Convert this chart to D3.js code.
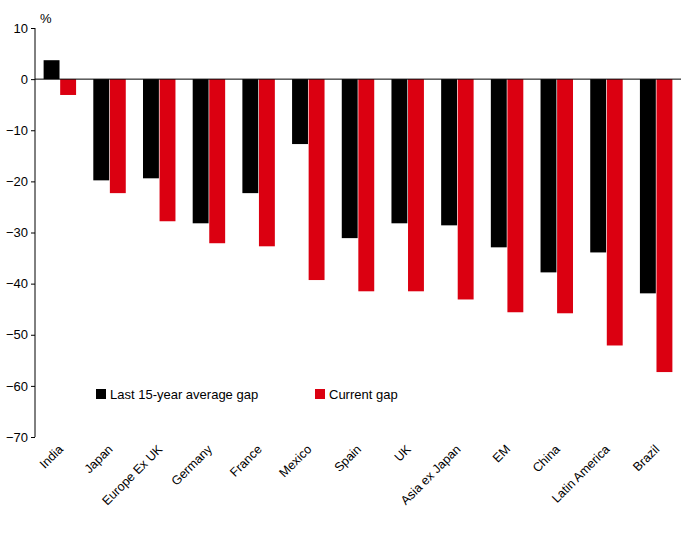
<!DOCTYPE html><html><head><meta charset="utf-8"><script src="https://cdn.jsdelivr.net/npm/d3@7"></script>
<style>body{margin:0;background:#fff}text{font-family:"Liberation Sans",Arial,sans-serif;}</style></head><body><svg id="c" width="690" height="534"></svg><script>
const categories=["India","Japan","Europe Ex UK","Germany","France","Mexico","Spain","UK","Asia ex Japan","EM","China","Latin America","Brazil"];
const avgGap=[3.7,-19.8,-19.4,-28.2,-22.3,-12.7,-31.1,-28.2,-28.6,-32.9,-37.8,-33.9,-41.9];
const currentGap=[-3.1,-22.3,-27.8,-32.1,-32.7,-39.3,-41.5,-41.5,-43.1,-45.6,-45.8,-52.1,-57.3];
const yTicks=[10,0,-10,-20,-30,-40,-50,-60,-70];
const seriesNames=["Last 15-year average gap","Current gap"];
const colors=["#000000","#db0011"];
const svg=d3.select("#c");
const y=d3.scaleLinear().domain([-70,10]).range([437,28]);
const x=d3.scaleBand().domain(categories).range([35,681]);
const xs=d3.scaleBand().domain([0,1]).range([0,x.bandwidth()]).paddingInner(0.04).paddingOuter(0.52);
const data=[avgGap,currentGap];
data.forEach((s,si)=>{svg.append("g").selectAll("rect").data(s).join("rect")
 .attr("x",(d,i)=>x(categories[i])+xs(si)).attr("width",xs.bandwidth())
 .attr("y",d=>y(Math.max(0,d))).attr("height",d=>Math.abs(y(d)-y(0))).attr("fill",colors[si]);});
const ya=svg.append("g").attr("transform","translate(35,0)").call(d3.axisLeft(y).tickValues(yTicks).tickSize(4).tickFormat(d3.format("d")));
ya.select(".domain").attr("stroke","#000").attr("d","M0,28V437");
ya.selectAll("text").attr("font-size",13).attr("fill","#000");
svg.append("line").attr("x1",35).attr("x2",681).attr("y1",y(0)).attr("y2",y(0)).attr("stroke","#000");
svg.append("text").attr("x",40).attr("y",23).attr("font-size",13).text("%");
svg.append("g").selectAll("text").data(categories).join("text")
 .attr("transform",d=>`translate(${x(d)+x.bandwidth()/2+4},${450}) rotate(-45)`)
 .attr("text-anchor","end").attr("font-size",12.5).text(d=>d);
const lx=[96,315];
seriesNames.forEach((n,i)=>{svg.append("rect").attr("x",lx[i]).attr("y",389).attr("width",10).attr("height",10).attr("fill",colors[i]);
 svg.append("text").attr("x",lx[i]+14).attr("y",399).attr("font-size",13).text(n);});
</script></body></html>
